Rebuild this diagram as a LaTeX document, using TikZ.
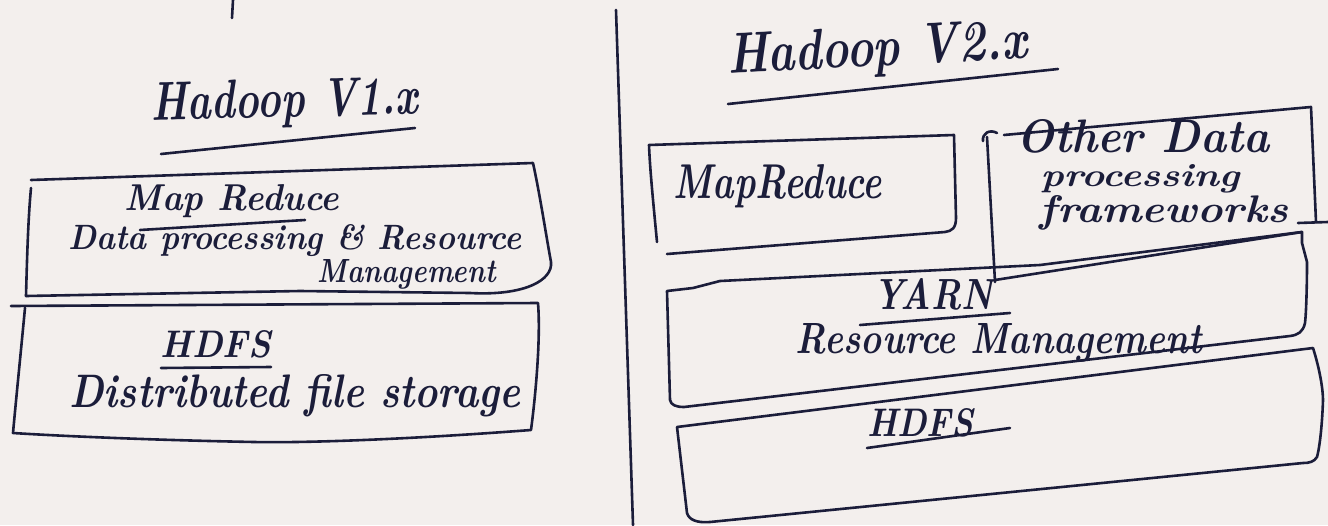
\documentclass[tikz,border=0pt]{standalone}
\usepackage{graphicx}
\definecolor{ink}{RGB}{27,29,58}
\definecolor{paper}{RGB}{243,239,237}
\tikzset{
  pen/.style={draw=ink, line width=2.6pt, line cap=round, line join=round},
  hand/.style={text=ink, inner sep=0pt, anchor=base, font=\bfseries\itshape},
}
\newcommand{\fitwh}[3]{\resizebox{#1pt}{#2pt}{#3}}
\begin{document}
\begin{tikzpicture}[x=1pt,y=-1pt]
\fill[paper] (0,0) rectangle (1328,525);
\useasboundingbox (0,0) rectangle (1328,525);

% ---------- Hadoop V1.x ----------
\draw[pen] (233,0) -- (232,18);
\node[hand, rotate=1.5] (t1) at (285,117) {\fitwh{267}{38}{Hadoop V1.x}};
\draw[pen] (161,154) -- (415,128);

% box 1 (Map Reduce)
\draw[pen] (31,180) -- (533,163) .. controls (540,195) and (546,235) .. (551,262)
  .. controls (553,280) and (525,296) .. (470,293) -- (300,291) -- (26,296);
\draw[pen] (31,188) .. controls (28,220) and (27,260) .. (26,296);
\node[hand] (mr1) at (232,210) {\fitwh{214}{26}{Map Reduce}};
\draw[pen] (140,230) -- (305,220);
\node[hand] (dp1) at (295,249) {\fitwh{453}{25}{Data processing \& Resource}};
\node[hand] (mg1) at (407,282) {\fitwh{178}{23}{Management}};

% box 2 (HDFS)
\draw[pen] (11,306) -- (538,303) .. controls (541,340) and (535,400) .. (531,430)
  .. controls (400,440) and (300,443) .. (254,442)
  .. controls (150,440) and (60,436) .. (13,433)
  .. controls (16,400) and (22,340) .. (25,308);
\node[hand] (hd1) at (216,357) {\fitwh{110}{27}{HDFS}};
\draw[pen] (161,368) -- (271,367);
\node[hand] (ds1) at (295,407) {\fitwh{451}{33}{Distributed file storage}};

% divider
\draw[pen] (616,10) -- (633,525);

% ---------- Hadoop V2.x ----------
\node[hand, rotate=3] (t2) at (878,66) {\fitwh{300}{40}{Hadoop V2.x}};
\draw[pen] (728,104) -- (1058,69);

% MapReduce box
\draw[pen] (657,242) .. controls (653,200) and (650,170) .. (649,145) -- (954,135) -- (956,218)
  .. controls (956,228) and (952,231) .. (945,232) -- (667,254);
\node[hand] (mr2) at (778,198) {\fitwh{208}{34}{MapReduce}};

% Other data processing frameworks box
\draw[pen] (983,141) .. controls (982,133) and (990,129) .. (997,133);
\draw[pen] (987,137) -- (995,282);
\draw[pen] (1004,135) -- (1311,107) -- (1316,222);
\draw[pen] (1298,223) -- (1328,222);
\draw[pen] (995,280) -- (1302,232);
\node[hand] (od2) at (1143,152) {\fitwh{253}{33}{Other Data}};
\node[hand] (pr2) at (1140,186) {\fitwh{199}{22}{processing}};
\node[hand] (fw2) at (1164,222) {\fitwh{248}{27}{frameworks}};

% YARN box
\draw[pen] (670,400) -- (667,291) -- (693,288) -- (720,281) -- (1040,265) -- (1302,232)
  -- (1302,243) -- (1307,262) .. controls (1307,290) and (1306,315) .. (1305,323)
  .. controls (1303,332) and (1298,335) .. (1290,336) -- (684,407)
  .. controls (676,407) and (671,405) .. (670,400);
\node[hand] (ya2) at (933,309) {\fitwh{120}{31}{YARN}};
\draw[pen] (860,325) -- (1010,313);
\node[hand] (rm2) at (999,353) {\fitwh{406}{30}{Resource Management}};

% HDFS box
\draw[pen] (677,427) -- (1313,348) .. controls (1320,370) and (1323,390) .. (1323,400)
  .. controls (1322,430) and (1319,450) .. (1317,457)
  .. controls (1314,462) and (1309,463) .. (1303,463) -- (710,522)
  .. controls (697,523) and (689,520) .. (687,513) -- (677,427);
\node[hand] (hd2) at (920,436) {\fitwh{106}{28}{HDFS}};
\draw[pen] (867,448) -- (1010,428);
\end{tikzpicture}
\end{document}
